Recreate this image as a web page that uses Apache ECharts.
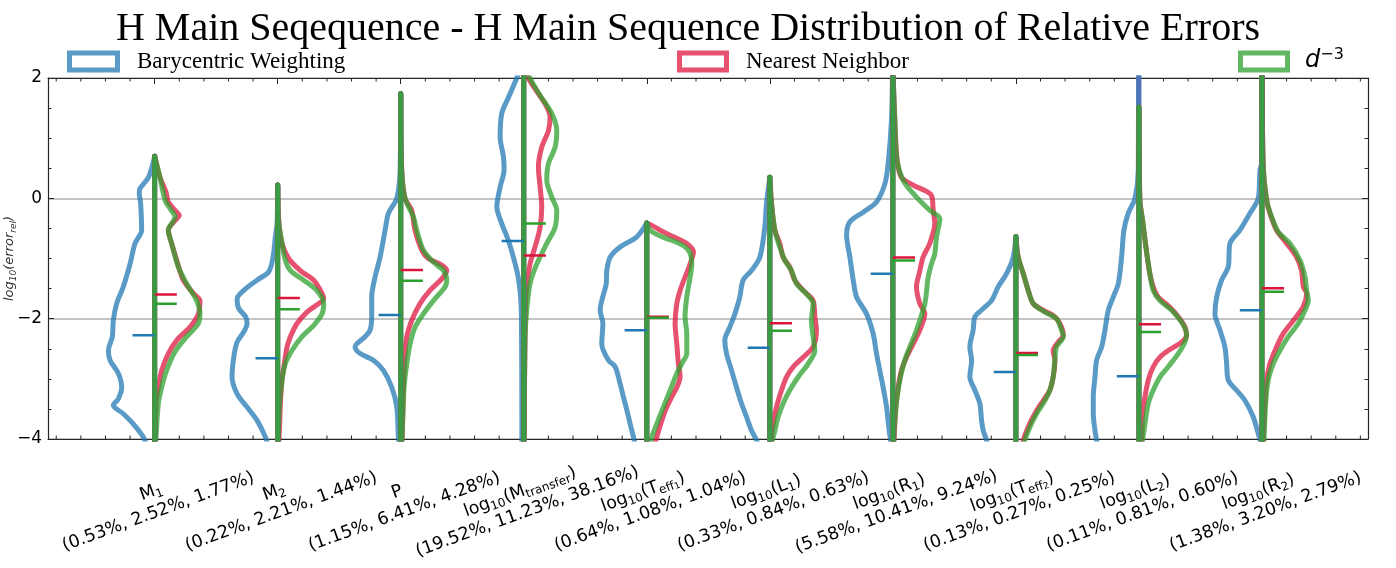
<!DOCTYPE html>
<html><head><meta charset="utf-8">
<script src="https://cdn.jsdelivr.net/npm/echarts@6/dist/echarts.min.js"></script>
<style>html,body{margin:0;padding:0;background:#fff}#c{width:1396px;height:568px}</style>
</head><body><div id="c"></div>
<script>
// ---------- data ----------
const categoryNames = ['M_1','M_2','P','log_10(M_transfer)','log_10(T_eff_1)','log_10(L_1)','log_10(R_1)','log_10(T_eff_2)','log_10(L_2)','log_10(R_2)'];
// median relative errors in percent (Barycentric, Nearest Neighbor, d^-3)
const pctBarycentric = [0.53,0.22,1.15,19.52,0.64,0.33,5.58,0.13,0.11,1.38];
const pctNearest     = [2.52,2.21,6.41,11.23,1.08,0.84,10.41,0.27,0.81,3.20];
const pctD3          = [1.77,1.44,4.28,38.16,1.04,0.63,9.24,0.25,0.60,2.79];
const yTickValues = [-4,-2,0,2];
// violin half-profiles: [log10 error, half width in category units], top to bottom
const baryProfiles = [
 [[0.70,0],[0.35,0.05],[0.16,0.12],[0.08,0.125],[-0.09,0.114],[-0.53,0.106],[-0.75,0.16],[-1.09,0.2],[-1.47,0.255],[-1.75,0.309],[-2.03,0.336],[-2.30,0.344],[-2.53,0.376],[-2.69,0.363],[-2.91,0.295],[-3.14,0.268],[-3.33,0.295],[-3.44,0.336],[-3.58,0.255],[-3.75,0.174],[-3.97,0.092],[-4.3,0.03]],
 [[0.22,0],[-0.42,0.005],[-0.64,0.019],[-0.98,0.038],[-1.22,0.073],[-1.36,0.168],[-1.53,0.276],[-1.67,0.33],[-1.83,0.317],[-1.97,0.26],[-2.08,0.249],[-2.22,0.276],[-2.39,0.33],[-2.64,0.357],[-2.97,0.371],[-3.25,0.33],[-3.47,0.249],[-3.69,0.168],[-3.97,0.10],[-4.3,0.05]],
 [[1.74,0],[0.47,0.005],[0,0.032],[-0.25,0.1],[-0.53,0.127],[-0.98,0.168],[-1.31,0.209],[-1.64,0.236],[-1.97,0.236],[-2.19,0.249],[-2.30,0.290],[-2.47,0.371],[-2.58,0.330],[-2.69,0.222],[-2.86,0.141],[-3.14,0.073],[-3.47,0.032],[-3.97,0.019],[-4.3,0.01]],
 [[2.3,0],[2.0,0.057],[1.68,0.124],[1.41,0.179],[1.02,0.192],[0.69,0.165],[0.47,0.16],[0.19,0.192],[-0.14,0.219],[-0.42,0.179],[-0.70,0.125],[-0.98,0.084],[-1.25,0.051],[-1.53,0.03],[-1.86,0.02],[-2.30,0.018],[-3.0,0.016],[-4.3,0.015]],
 [[-0.41,0],[-0.64,0.081],[-0.81,0.217],[-0.98,0.298],[-1.20,0.325],[-1.42,0.330],[-1.70,0.366],[-1.86,0.379],[-2.08,0.357],[-2.42,0.366],[-2.69,0.312],[-2.80,0.257],[-3.08,0.217],[-3.30,0.190],[-3.52,0.162],[-3.75,0.135],[-3.97,0.108],[-4.3,0.07]],
 [[0.35,0],[-0.09,0.027],[-0.48,0.041],[-0.98,0.081],[-1.20,0.149],[-1.36,0.217],[-1.64,0.244],[-1.92,0.284],[-2.14,0.325],[-2.36,0.366],[-2.58,0.352],[-2.86,0.311],[-3.14,0.271],[-3.41,0.230],[-3.63,0.190],[-3.86,0.149],[-4.02,0.108],[-4.3,0.06]],
 [[2.3,0],[2.0,0.003],[1.30,0.011],[0.58,0.038],[0.24,0.065],[-0.06,0.133],[-0.23,0.241],[-0.39,0.349],[-0.61,0.376],[-0.98,0.349],[-1.36,0.322],[-1.64,0.295],[-1.92,0.214],[-2.25,0.160],[-2.58,0.133],[-2.86,0.106],[-3.14,0.079],[-3.47,0.051],[-3.86,0.030],[-4.02,0.019],[-4.3,0.01]],
 [[-0.64,0],[-0.98,0.022],[-1.25,0.076],[-1.47,0.144],[-1.70,0.198],[-1.83,0.265],[-1.97,0.333],[-2.19,0.347],[-2.47,0.374],[-2.69,0.360],[-2.97,0.374],[-3.19,0.333],[-3.41,0.293],[-3.69,0.279],[-3.86,0.265],[-4.02,0.238],[-4.3,0.2]],
 [[2.3,0],[2.0,0.003],[0.47,0.005],[0,0.032],[-0.25,0.087],[-0.53,0.122],[-0.98,0.141],[-1.42,0.168],[-1.64,0.209],[-1.86,0.249],[-2.19,0.276],[-2.47,0.303],[-2.69,0.344],[-2.97,0.357],[-3.30,0.371],[-3.58,0.371],[-3.86,0.357],[-4.02,0.344],[-4.3,0.32]],
 [[2.3,0],[0.58,0.003],[0.47,0.016],[0,0.030],[-0.25,0.098],[-0.53,0.179],[-0.75,0.260],[-1.14,0.274],[-1.36,0.328],[-1.64,0.368],[-1.92,0.382],[-2.19,0.341],[-2.47,0.301],[-2.75,0.287],[-3.02,0.274],[-3.19,0.206],[-3.36,0.138],[-3.63,0.071],[-3.91,0.030],[-4.02,0.016],[-4.3,0.005]]
];
const nearestProfiles = [
 [[0.70,0],[0.35,0.043],[0.105,0.092],[-0.06,0.111],[-0.23,0.179],[-0.28,0.2],[-0.37,0.165],[-0.53,0.111],[-0.75,0.138],[-1.03,0.179],[-1.36,0.233],[-1.58,0.314],[-1.70,0.368],[-1.92,0.355],[-2.14,0.287],[-2.36,0.179],[-2.58,0.111],[-2.86,0.057],[-3.14,0.03],[-3.41,0.011],[-3.97,0.005],[-4.3,0]],
 [[0.22,0],[-0.37,0.008],[-0.75,0.035],[-1.00,0.089],[-1.20,0.184],[-1.36,0.293],[-1.53,0.347],[-1.67,0.374],[-1.75,0.333],[-1.89,0.238],[-2.08,0.157],[-2.30,0.103],[-2.47,0.076],[-2.75,0.054],[-3.02,0.035],[-3.41,0.022],[-3.97,0.011],[-4.3,0]],
 [[1.74,0],[0.47,0.008],[0,0.035],[-0.20,0.089],[-0.53,0.116],[-0.86,0.171],[-1.00,0.225],[-1.11,0.333],[-1.20,0.374],[-1.34,0.333],[-1.53,0.238],[-1.75,0.157],[-2.03,0.089],[-2.30,0.049],[-2.58,0.035],[-3.14,0.022],[-3.97,0.011],[-4.3,0]],
 [[2.3,0],[2.0,0.038],[1.74,0.119],[1.52,0.187],[1.35,0.214],[1.13,0.201],[0.85,0.146],[0.52,0.119],[0.19,0.133],[-0.14,0.146],[-0.48,0.133],[-0.75,0.100],[-1.09,0.051],[-1.47,0.024],[-2.03,0.011],[-3.97,0.003],[-4.3,0]],
 [[-0.41,0],[-0.45,0.041],[-0.53,0.108],[-0.64,0.217],[-0.75,0.325],[-0.89,0.379],[-1.09,0.352],[-1.31,0.311],[-1.53,0.271],[-1.75,0.244],[-2.08,0.230],[-2.42,0.244],[-2.75,0.257],[-2.97,0.271],[-3.14,0.244],[-3.30,0.203],[-3.47,0.162],[-3.69,0.122],[-3.97,0.081],[-4.3,0.04]],
 [[0.35,0],[-0.09,0.014],[-0.53,0.041],[-0.75,0.081],[-0.98,0.108],[-1.14,0.162],[-1.36,0.203],[-1.53,0.271],[-1.70,0.352],[-1.97,0.366],[-2.19,0.379],[-2.47,0.352],[-2.64,0.271],[-2.80,0.190],[-2.97,0.135],[-3.19,0.095],[-3.47,0.054],[-3.75,0.027],[-3.97,0.014],[-4.3,0.005]],
 [[2.3,0],[2.0,0.003],[1.30,0.016],[0.63,0.035],[0.35,0.070],[0.22,0.165],[0.05,0.314],[-0.20,0.328],[-0.42,0.341],[-0.75,0.30],[-0.98,0.245],[-1.20,0.22],[-1.47,0.192],[-1.75,0.219],[-1.92,0.260],[-2.19,0.219],[-2.42,0.165],[-2.64,0.111],[-2.86,0.070],[-3.14,0.043],[-3.47,0.024],[-3.97,0.011],[-4.3,0]],
 [[-0.64,0],[-0.98,0.019],[-1.25,0.060],[-1.53,0.100],[-1.75,0.141],[-1.86,0.222],[-1.97,0.317],[-2.14,0.371],[-2.28,0.385],[-2.39,0.344],[-2.53,0.303],[-2.69,0.317],[-2.97,0.303],[-3.19,0.276],[-3.36,0.222],[-3.58,0.154],[-3.80,0.100],[-4.02,0.060],[-4.3,0.03]],
 [[1.52,0],[-0.03,0.008],[-0.37,0.030],[-0.81,0.057],[-1.20,0.084],[-1.47,0.116],[-1.64,0.157],[-1.81,0.252],[-1.97,0.320],[-2.14,0.374],[-2.28,0.387],[-2.39,0.347],[-2.53,0.238],[-2.64,0.171],[-2.80,0.116],[-3.02,0.076],[-3.30,0.049],[-3.58,0.030],[-4.02,0.022],[-4.3,0.015]],
 [[2.3,0],[0.52,0.011],[-0.03,0.038],[-0.25,0.065],[-0.53,0.119],[-0.75,0.201],[-0.98,0.282],[-1.20,0.322],[-1.47,0.336],[-1.58,0.363],[-1.80,0.336],[-2.03,0.255],[-2.25,0.173],[-2.47,0.119],[-2.75,0.065],[-3.02,0.038],[-3.41,0.024],[-4.02,0.011],[-4.3,0.005]]
];
const d3Profiles = [
 [[0.70,0],[0.35,0.043],[-0.03,0.084],[-0.17,0.125],[-0.31,0.165],[-0.53,0.111],[-0.75,0.138],[-1.14,0.192],[-1.42,0.26],[-1.70,0.341],[-1.92,0.368],[-2.08,0.355],[-2.30,0.260],[-2.55,0.165],[-2.86,0.097],[-3.14,0.057],[-3.41,0.030],[-3.97,0.011],[-4.3,0]],
 [[0.22,0],[-0.37,0.008],[-0.75,0.035],[-1.03,0.062],[-1.20,0.103],[-1.36,0.211],[-1.53,0.317],[-1.75,0.374],[-1.92,0.360],[-2.11,0.293],[-2.30,0.198],[-2.53,0.116],[-2.75,0.062],[-3.02,0.035],[-3.41,0.016],[-3.97,0.005],[-4.3,0]],
 [[1.74,0],[0.47,0.008],[0,0.035],[-0.31,0.103],[-0.53,0.130],[-0.86,0.184],[-1.06,0.266],[-1.20,0.347],[-1.36,0.374],[-1.47,0.360],[-1.70,0.266],[-1.92,0.184],[-2.14,0.117],[-2.42,0.076],[-2.75,0.049],[-3.14,0.027],[-3.97,0.011],[-4.3,0]],
 [[2.3,0],[2.0,0.051],[1.71,0.133],[1.41,0.228],[1.13,0.268],[0.85,0.255],[0.58,0.201],[0.30,0.187],[0.02,0.228],[-0.20,0.268],[-0.48,0.255],[-0.75,0.187],[-1.09,0.106],[-1.42,0.051],[-1.86,0.024],[-2.30,0.011],[-3.97,0.003],[-4.3,0]],
 [[-0.41,0],[-0.53,0.027],[-0.64,0.122],[-0.73,0.244],[-0.86,0.338],[-1.09,0.366],[-1.31,0.352],[-1.64,0.325],[-1.97,0.311],[-2.25,0.325],[-2.58,0.325],[-2.75,0.284],[-2.91,0.244],[-3.19,0.190],[-3.47,0.135],[-3.75,0.081],[-3.97,0.041],[-4.3,0.01]],
 [[0.35,0],[-0.09,0.014],[-0.53,0.041],[-0.81,0.081],[-1.03,0.122],[-1.20,0.176],[-1.42,0.217],[-1.56,0.284],[-1.75,0.352],[-2.03,0.338],[-2.30,0.352],[-2.53,0.366],[-2.75,0.311],[-2.97,0.230],[-3.19,0.162],[-3.41,0.108],[-3.63,0.068],[-3.86,0.041],[-4.02,0.022],[-4.3,0.01]],
 [[2.3,0],[2.0,0.003],[1.30,0.016],[0.69,0.030],[0.30,0.084],[0.02,0.192],[-0.20,0.301],[-0.34,0.382],[-0.64,0.355],[-0.92,0.341],[-1.09,0.314],[-1.31,0.287],[-1.75,0.260],[-2.19,0.192],[-2.47,0.138],[-2.69,0.097],[-2.97,0.062],[-3.30,0.035],[-3.69,0.016],[-3.97,0.008],[-4.3,0]],
 [[-0.64,0],[-0.98,0.019],[-1.25,0.060],[-1.53,0.100],[-1.75,0.141],[-1.89,0.236],[-2.00,0.330],[-2.19,0.371],[-2.30,0.385],[-2.47,0.330],[-2.69,0.317],[-2.97,0.303],[-3.19,0.276],[-3.36,0.236],[-3.58,0.168],[-3.80,0.114],[-4.02,0.073],[-4.3,0.04]],
 [[1.52,0],[-0.03,0.008],[-0.37,0.030],[-0.81,0.057],[-1.25,0.089],[-1.53,0.116],[-1.70,0.171],[-1.86,0.266],[-2.06,0.347],[-2.25,0.387],[-2.39,0.374],[-2.58,0.320],[-2.80,0.238],[-2.97,0.171],[-3.19,0.116],[-3.41,0.076],[-3.75,0.049],[-4.02,0.030],[-4.3,0.02]],
 [[2.3,0],[0.52,0.011],[-0.03,0.038],[-0.31,0.079],[-0.56,0.133],[-0.75,0.228],[-1.03,0.309],[-1.31,0.350],[-1.53,0.363],[-1.70,0.377],[-1.86,0.350],[-2.08,0.295],[-2.30,0.214],[-2.53,0.146],[-2.75,0.092],[-3.02,0.051],[-3.41,0.030],[-4.02,0.016],[-4.3,0.005]]
];

// ---------- helpers ----------
function toRich(name) { // '_' starts a subscript level; punctuation returns to baseline
  const styles = ['n','s','ss'];
  let out = '', level = 0, buf = '';
  const flush = () => { if (buf) { out += '{' + styles[Math.min(level,2)] + '|' + buf + '}'; buf=''; } };
  for (const ch of name) {
    if (ch === '_') { flush(); level++; }
    else if (/[A-Za-z0-9]/.test(ch)) { buf += ch; }
    else { flush(); level = 0; buf += ch; }
  }
  flush();
  return out;
}
const fmtPct = v => v.toFixed(2) + '%';
const tickLabels = categoryNames.map((n,i) =>
  toRich(n) + '\n{n|(' + fmtPct(pctBarycentric[i]) + ', ' + fmtPct(pctNearest[i]) + ', ' + fmtPct(pctD3[i]) + ')}');

const catIdx = categoryNames.map((_, i) => i);
const minorX = [];
for (let k = -4; k <= 49; k++) { if (k % 5 !== 0) minorX.push(k / 5); }

const X_MIN = -0.867, X_MAX = 9.862;
const methods = [
  {profiles: baryProfiles, side: -1, color: 'rgba(31,119,180,0.74)', centre: '#4f74b6', pct: pctBarycentric, med: '#1f77b4'},
  {profiles: nearestProfiles, side: 1, color: 'rgba(220,20,60,0.74)', centre: '#c8364f', pct: pctNearest, med: '#dc143c'},
  {profiles: d3Profiles, side: 1, color: 'rgba(44,160,44,0.74)', centre: '#3b9a44', pct: pctD3, med: '#2ca02c'}
];

const series = [];
methods.forEach(m => m.profiles.forEach((prof, i) => {
  series.push({type: 'line', silent: true, symbol: 'none', smooth: 0.3, z: 2,
    data: prof.map(([y, w]) => [i + m.side * w, y]),
    lineStyle: {color: m.color, width: 5, cap: 'round', join: 'round'}});
}));
methods.forEach(m => m.profiles.forEach((prof, i) => {
  series.push({type: 'line', silent: true, symbol: 'none', z: 3,
    data: [[i, prof[0][0]], [i, prof[prof.length - 1][0]]],
    lineStyle: {color: m.centre, width: 5, cap: 'round'}});
}));
methods.forEach(m => m.pct.forEach((p, i) => {
  const med = Math.log10(p / 100);
  series.push({type: 'line', silent: true, symbol: 'none', z: 4,
    data: [[i, med], [i + m.side * 0.18, med]],
    lineStyle: {color: m.med, width: 2.5, cap: 'butt'}});
}));
// minor ticks on top and bottom spines
series.push({type: 'custom', silent: true, z: 6, clip: false,
  data: minorX.map(v => [v, -4]), encode: {x: 0, y: 1},
  renderItem: (params, api) => {
    const p = api.coord([api.value(0), -4]);
    const t = api.coord([api.value(0), 2]);
    return {type: 'group', children: [
      {type: 'line', shape: {x1: p[0], y1: p[1], x2: p[0], y2: p[1] - 3.5}, style: {stroke: '#262626', lineWidth: 1}},
      {type: 'line', shape: {x1: t[0], y1: t[1], x2: t[0], y2: t[1] + 3.5}, style: {stroke: '#262626', lineWidth: 1}}
    ]};
  }});

const axisCol = '#262626';
const richLabel = {
  n: {fontFamily: 'DejaVu Sans', fontSize: 17.5, color: '#000', lineHeight: 21},
  s: {fontFamily: 'DejaVu Sans', fontSize: 12, color: '#000', lineHeight: 11, verticalAlign: 'bottom'},
  ss: {fontFamily: 'DejaVu Sans', fontSize: 9, color: '#000', lineHeight: 5, verticalAlign: 'bottom'}
};

const option = {
  animation: false,
  backgroundColor: '#fff',
  grid: {left: 48, right: 28, top: 78, bottom: 129, containLabel: false, outerBoundsMode: 'none'},
  xAxis: [
    {type: 'value', min: X_MIN, max: X_MAX, position: 'bottom',
     axisLine: {show: true, onZero: false, lineStyle: {color: axisCol, width: 1.2}},
     axisTick: {show: true, inside: true, length: 6, customValues: catIdx, lineStyle: {color: axisCol}},
     splitLine: {show: false},
     axisLabel: {show: true, customValues: catIdx, rotate: 20, align: 'center', verticalAlign: 'middle',
       margin: 63, hideOverlap: false, formatter: v => tickLabels[Math.round(v)], rich: richLabel}},
    {type: 'value', min: X_MIN, max: X_MAX, position: 'top',
     axisLine: {show: true, onZero: false, lineStyle: {color: axisCol, width: 1.2}},
     axisTick: {show: true, inside: true, length: 6, customValues: catIdx, lineStyle: {color: axisCol}},
     splitLine: {show: false}, axisLabel: {show: false}}
  ],
  yAxis: [
    {type: 'value', min: -4, max: 2, interval: 2, position: 'left',
     axisLine: {show: true, onZero: false, lineStyle: {color: axisCol, width: 1.2}},
     axisTick: {show: true, inside: true, length: 6, lineStyle: {color: axisCol}},
     minorTick: {show: true, splitNumber: 4, length: 3.5, lineStyle: {color: axisCol}},
     splitLine: {show: true, lineStyle: {color: '#b0b0b0', width: 1.5}},
     axisLabel: {color: '#000', fontFamily: 'DejaVu Sans', fontSize: 17, margin: 6,
       customValues: yTickValues, formatter: v => String(v).replace('-', '\u2212')},
     name: '{i|log}{is|10}{i|(error}{is|rel}{i|)}', nameLocation: 'middle', nameGap: 30, nameRotate: 90,
     nameMoveOverlap: false,
     nameTextStyle: {rich: {
       i: {fontFamily: 'DejaVu Sans', fontStyle: 'italic', fontSize: 13, color: '#333', lineHeight: 16},
       is: {fontFamily: 'DejaVu Sans', fontStyle: 'italic', fontSize: 9, color: '#333', lineHeight: 9, verticalAlign: 'bottom'}}}},
    {type: 'value', min: -4, max: 2, interval: 2, position: 'right',
     axisLine: {show: true, onZero: false, lineStyle: {color: axisCol, width: 1.2}},
     axisTick: {show: true, inside: true, length: 6, lineStyle: {color: axisCol}},
     minorTick: {show: true, splitNumber: 4, length: 3.5, lineStyle: {color: axisCol}},
     splitLine: {show: false}, axisLabel: {show: false}}
  ],
  graphic: [
    {type: 'text', x: 688, y: 29, silent: true,
     style: {text: 'H Main Seqequence - H Main Sequence Distribution of Relative Errors',
       font: '40px "Liberation Serif"', fill: '#000', align: 'center', verticalAlign: 'middle'}},
    {type: 'rect', silent: true, shape: {x: 69.5, y: 53, width: 48, height: 17},
     style: {fill: 'none', stroke: 'rgba(31,119,180,0.74)', lineWidth: 5}},
    {type: 'text', x: 137, y: 62, silent: true,
     style: {text: 'Barycentric Weighting', font: '23px "Liberation Serif"', fill: '#000', align: 'left', verticalAlign: 'middle'}},
    {type: 'rect', silent: true, shape: {x: 679.5, y: 53, width: 47, height: 17},
     style: {fill: 'none', stroke: 'rgba(220,20,60,0.74)', lineWidth: 5}},
    {type: 'text', x: 746, y: 62, silent: true,
     style: {text: 'Nearest Neighbor', font: '23px "Liberation Serif"', fill: '#000', align: 'left', verticalAlign: 'middle'}},
    {type: 'rect', silent: true, shape: {x: 1240.5, y: 53, width: 47, height: 17},
     style: {fill: 'none', stroke: 'rgba(44,160,44,0.74)', lineWidth: 5}},
    {type: 'text', x: 1305, y: 61, silent: true,
     style: {text: '{d|d}{sup|\u22123}', align: 'left', verticalAlign: 'middle',
       rich: {d: {fontFamily: 'DejaVu Sans', fontStyle: 'italic', fontSize: 24, fill: '#000', lineHeight: 28},
              sup: {fontFamily: 'DejaVu Sans', fontSize: 16, fill: '#000', lineHeight: 16, verticalAlign: 'top'}}}}
  ],
  series: series
};
const chart = echarts.init(document.getElementById('c'), null, {renderer: 'canvas'});
chart.setOption(option);
</script>
</body></html>
